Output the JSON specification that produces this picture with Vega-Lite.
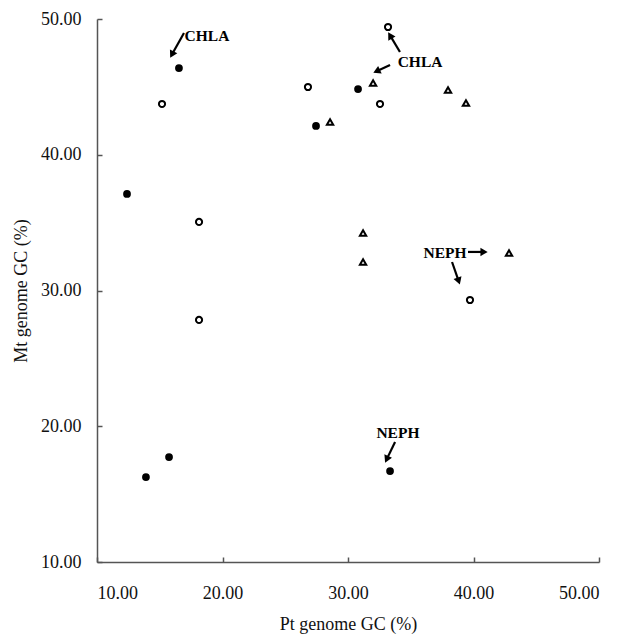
{
  "$schema": "https://vega.github.io/schema/vega-lite/v6.json",
  "width": 502,
  "height": 543,
  "autosize": {"type": "none"},
  "padding": {"left": 97, "top": 19, "right": 29, "bottom": 75},
  "background": "white",
  "config": {
    "view": {"stroke": null},
    "font": "Liberation Serif",
    "axis": {
      "labelFont": "Liberation Serif",
      "labelFontSize": 18,
      "labelColor": "#111",
      "titleFont": "Liberation Serif",
      "titleFontSize": 18,
      "titleFontWeight": "normal",
      "titleColor": "#111",
      "domainColor": "#555",
      "domainWidth": 1.5,
      "tickColor": "#555",
      "tickWidth": 1.5,
      "tickSize": -5,
      "grid": false
    },
    "axisX": {"labelPadding": 27, "titlePadding": 13},
    "axisY": {"labelPadding": 21, "titlePadding": 10}
  },
  "datasets": {
    "points": [
      {"group": "filled", "pt": 16.53, "mt": 46.39},
      {"group": "filled", "pt": 12.39, "mt": 37.11},
      {"group": "filled", "pt": 13.90, "mt": 16.26},
      {"group": "filled", "pt": 15.74, "mt": 17.73},
      {"group": "filled", "pt": 30.80, "mt": 44.84},
      {"group": "filled", "pt": 27.45, "mt": 42.12},
      {"group": "filled", "pt": 33.35, "mt": 16.70},
      {"group": "open", "pt": 15.18, "mt": 43.74},
      {"group": "open", "pt": 18.13, "mt": 35.05},
      {"group": "open", "pt": 18.13, "mt": 27.83},
      {"group": "open", "pt": 33.19, "mt": 49.41},
      {"group": "open", "pt": 26.81, "mt": 44.99},
      {"group": "open", "pt": 32.55, "mt": 43.74},
      {"group": "open", "pt": 39.72, "mt": 29.30},
      {"group": "triangle", "pt": 32.00, "mt": 45.29},
      {"group": "triangle", "pt": 37.97, "mt": 44.77},
      {"group": "triangle", "pt": 39.40, "mt": 43.81},
      {"group": "triangle", "pt": 28.57, "mt": 42.41},
      {"group": "triangle", "pt": 31.20, "mt": 34.24},
      {"group": "triangle", "pt": 31.20, "mt": 32.10},
      {"group": "triangle", "pt": 42.83, "mt": 32.76}
    ],
    "labels": [
      {"label": "CHLA", "pt": 18.76, "mt": 48.75},
      {"label": "CHLA", "pt": 35.74, "mt": 46.83},
      {"label": "NEPH", "pt": 37.73, "mt": 32.76},
      {"label": "NEPH", "pt": 33.98, "mt": 19.50}
    ],
    "arrows": [
      {"id": 1, "pt": 16.93, "mt": 48.97, "pt_end": 15.97, "mt_end": 47.38},
      {"id": 2, "pt": 33.35, "mt": 46.61, "pt_end": 32.28, "mt_end": 46.15},
      {"id": 3, "pt": 34.14, "mt": 47.57, "pt_end": 33.35, "mt_end": 48.79},
      {"id": 4, "pt": 39.56, "mt": 32.84, "pt_end": 40.84, "mt_end": 32.84},
      {"id": 5, "pt": 38.29, "mt": 32.10, "pt_end": 38.82, "mt_end": 30.69},
      {"id": 6, "pt": 33.75, "mt": 18.84, "pt_end": 33.08, "mt_end": 17.56}
    ]
  },
  "layer": [
    {
      "data": {"name": "points"},
      "transform": [{"filter": "datum.group === 'filled'"}],
      "mark": {"type": "point", "shape": "circle", "filled": true, "color": "#000", "size": 60, "opacity": 1},
      "encoding": {
        "x": {"field": "pt", "type": "quantitative", "title": "Pt genome GC (%)", "scale": {"domain": [10, 50], "nice": false, "zero": false}, "axis": {"values": [10, 20, 30, 40, 50], "format": ".2f"}},
        "y": {"field": "mt", "type": "quantitative", "title": "Mt genome GC (%)", "scale": {"domain": [10, 50], "nice": false, "zero": false}, "axis": {"values": [10, 20, 30, 40, 50], "format": ".2f"}}
      }
    },
    {
      "data": {"name": "points"},
      "transform": [{"filter": "datum.group === 'open'"}],
      "mark": {"type": "point", "shape": "circle", "filled": false, "color": "#000", "strokeWidth": 2, "size": 38, "opacity": 1},
      "encoding": {
        "x": {"field": "pt", "type": "quantitative", "title": "Pt genome GC (%)"},
        "y": {"field": "mt", "type": "quantitative", "title": "Mt genome GC (%)"}
      }
    },
    {
      "data": {"name": "points"},
      "transform": [{"filter": "datum.group === 'triangle'"}],
      "mark": {"type": "point", "shape": "triangle-up", "filled": false, "color": "#000", "strokeWidth": 2, "size": 40, "opacity": 1},
      "encoding": {
        "x": {"field": "pt", "type": "quantitative", "title": "Pt genome GC (%)"},
        "y": {"field": "mt", "type": "quantitative", "title": "Mt genome GC (%)"}
      }
    },
    {
      "data": {"name": "labels"},
      "mark": {"type": "text", "font": "Liberation Serif", "fontWeight": "bold", "fontSize": 15.5, "color": "#000", "align": "center", "baseline": "middle"},
      "encoding": {
        "x": {"field": "pt", "type": "quantitative", "title": "Pt genome GC (%)"},
        "y": {"field": "mt", "type": "quantitative", "title": "Mt genome GC (%)"},
        "text": {"field": "label"}
      }
    },
    {
      "data": {"name": "arrows"},
      "mark": {"type": "rule", "color": "#000", "strokeWidth": 2.2},
      "encoding": {
        "x": {"field": "pt", "type": "quantitative", "title": "Pt genome GC (%)"},
        "y": {"field": "mt", "type": "quantitative", "title": "Mt genome GC (%)"},
        "x2": {"field": "pt_end"},
        "y2": {"field": "mt_end"}
      }
    },
    {
      "data": {"name": "arrows"},
      "transform": [{"filter": "datum.id === 1"}],
      "mark": {"type": "point", "shape": "triangle-up", "filled": true, "color": "#000", "size": 70, "opacity": 1, "angle": 208},
      "encoding": {"x": {"field": "pt_end", "type": "quantitative", "title": "Pt genome GC (%)"}, "y": {"field": "mt_end", "type": "quantitative", "title": "Mt genome GC (%)"}}
    },
    {
      "data": {"name": "arrows"},
      "transform": [{"filter": "datum.id === 2"}],
      "mark": {"type": "point", "shape": "triangle-up", "filled": true, "color": "#000", "size": 70, "opacity": 1, "angle": 245},
      "encoding": {"x": {"field": "pt_end", "type": "quantitative", "title": "Pt genome GC (%)"}, "y": {"field": "mt_end", "type": "quantitative", "title": "Mt genome GC (%)"}}
    },
    {
      "data": {"name": "arrows"},
      "transform": [{"filter": "datum.id === 3"}],
      "mark": {"type": "point", "shape": "triangle-up", "filled": true, "color": "#000", "size": 70, "opacity": 1, "angle": 329},
      "encoding": {"x": {"field": "pt_end", "type": "quantitative", "title": "Pt genome GC (%)"}, "y": {"field": "mt_end", "type": "quantitative", "title": "Mt genome GC (%)"}}
    },
    {
      "data": {"name": "arrows"},
      "transform": [{"filter": "datum.id === 4"}],
      "mark": {"type": "point", "shape": "triangle-up", "filled": true, "color": "#000", "size": 70, "opacity": 1, "angle": 90},
      "encoding": {"x": {"field": "pt_end", "type": "quantitative", "title": "Pt genome GC (%)"}, "y": {"field": "mt_end", "type": "quantitative", "title": "Mt genome GC (%)"}}
    },
    {
      "data": {"name": "arrows"},
      "transform": [{"filter": "datum.id === 5"}],
      "mark": {"type": "point", "shape": "triangle-up", "filled": true, "color": "#000", "size": 70, "opacity": 1, "angle": 161},
      "encoding": {"x": {"field": "pt_end", "type": "quantitative", "title": "Pt genome GC (%)"}, "y": {"field": "mt_end", "type": "quantitative", "title": "Mt genome GC (%)"}}
    },
    {
      "data": {"name": "arrows"},
      "transform": [{"filter": "datum.id === 6"}],
      "mark": {"type": "point", "shape": "triangle-up", "filled": true, "color": "#000", "size": 70, "opacity": 1, "angle": 205},
      "encoding": {"x": {"field": "pt_end", "type": "quantitative", "title": "Pt genome GC (%)"}, "y": {"field": "mt_end", "type": "quantitative", "title": "Mt genome GC (%)"}}
    }
  ]
}
